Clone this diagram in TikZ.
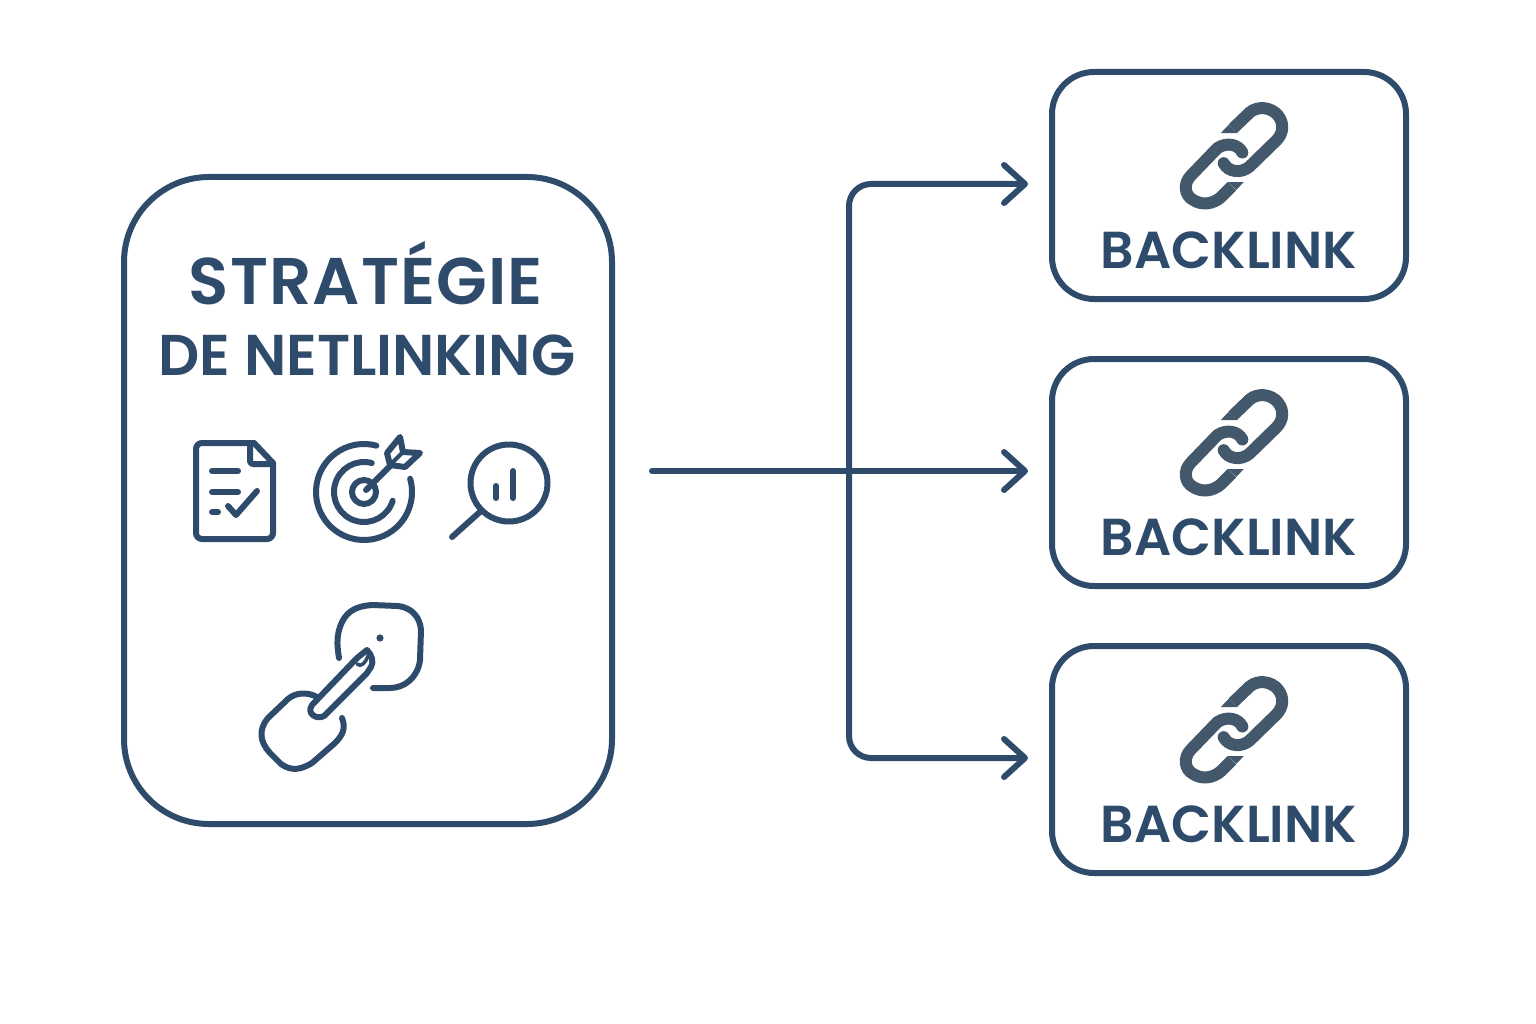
\documentclass[tikz,border=0pt]{standalone}
\usepackage{fontspec}
\usepackage{xcolor}
\usetikzlibrary{calc,positioning,arrows.meta}
\newfontfamily\labelfont{Poppins SemiBold}
\newfontfamily\titlefont{Poppins SemiBold}[LetterSpace=1.7]
\definecolor{navy}{HTML}{2F4B6B}
\definecolor{slate}{HTML}{44586C}
\tikzset{
  stratbox/.style={ % image of the large strategy frame
    draw=navy, line width=6pt, rectangle, rounded corners=85pt,
    minimum width=488pt, minimum height=647pt, outer sep=0pt
  },
  backbox/.style={  % image of one backlink frame
    draw=navy, line width=6pt, rectangle, rounded corners=42pt,
    minimum width=354pt, minimum height=227pt, outer sep=0pt
  },
  backlabel/.style={
    text=navy, inner sep=0pt, anchor=base, font=\labelfont\fontsize{52}{60}\selectfont
  },
  flow/.style={
    draw=navy, line width=6pt, line cap=round, rounded corners=22pt
  },
  flowtip/.style={
    flow, -{Straight Barb[length=21pt,width=38pt,line width=6pt,round]}
  },
  icon/.style={
    draw=navy, line width=6pt, line cap=round, line join=round
  },
  chainlink/.pic={ % two linked rings, drawn in units of a third of a pixel
    \begin{scope}[scale=1/3,shift={(-430,-195)}]
      \draw[slate, line width=12pt, line cap=butt]
        (429,115) -- (480,66) .. controls (505,45) and (545,50) .. (565,75)
        .. controls (585,100) and (580,130) .. (560,150) -- (480,228)
        .. controls (455,250) and (415,245) .. (402,218);
      \fill[slate] (393,128) -- (417,103) -- (442,128) -- cycle;
      \fill[slate] (402,218) circle (6pt*3);
      \draw[slate, line width=12pt, line cap=butt]
        (458,186) .. controls (445,160) and (410,155) .. (383,173) -- (303,256)
        .. controls (280,280) and (285,315) .. (310,328)
        .. controls (335,345) and (370,342) .. (395,319) -- (427,287);
      \fill[slate] (458,186) circle (6pt*3);
      \fill[slate] (415,275) -- (462,275) -- (440,298) -- cycle;
    \end{scope}
  }
}
\begin{document}
\begin{tikzpicture}[x=1pt,y=-1pt]
  \useasboundingbox (0,0) rectangle (1536,1024);

  \node[stratbox] (strat) at (368,500.5) {};
  \node[backbox] (back1) at (1229,185.5) {};
  \node[backbox, below=60pt of back1] (back2) {};
  \node[backbox, below=60pt of back2] (back3) {};

  \node[text=navy, inner sep=0pt, anchor=base, font=\titlefont\fontsize{66}{70}\selectfont] (title1) at (366,305) {STRATÉGIE};
  \node[text=navy, inner sep=0pt, anchor=base, font=\labelfont\fontsize{57.5}{70}\selectfont] (title2) at (367,375) {DE NETLINKING};

  \node[backlabel] (label1) at ([yshift=-83pt]back1.center) {BACKLINK};
  \node[backlabel] (label2) at ([yshift=-83pt]back2.center) {BACKLINK};
  \node[backlabel] (label3) at ([yshift=-83pt]back3.center) {BACKLINK};

  \pic at ([xshift=4pt,yshift=30pt]back1.center) {chainlink};
  \pic at ([xshift=4pt,yshift=30pt]back2.center) {chainlink};
  \pic at ([xshift=4pt,yshift=30pt]back3.center) {chainlink};

  % connectors
  \coordinate (start) at (652,471);
  \coordinate (fork) at (849,471);
  \coordinate (out1) at (1028,184);
  \coordinate (out2) at (1028,471);
  \coordinate (out3) at (1028,758);
  \draw[flowtip] (start) -- (out2);
  \draw[flowtip] (fork) |- (out1);
  \draw[flowtip] (fork) |- (out3);

  % document icon
  \draw[icon, rounded corners=6pt] (254,443) -- (196,443) -- (196,539) -- (273,539) -- (273,463);
  \draw[icon] (254,443) -- (273,463);
  \draw[icon, rounded corners=3pt] (250,444) -- (250,464) -- (273,464);
  \draw[icon] (212,471) -- (238,471);
  \draw[icon] (212,492) -- (238,492);
  \draw[icon] (212,512) -- (218,512);
  \draw[icon] (228,506) -- (236,515) -- (257,491);

  % target icon
  \draw[icon] (364,492) ++(-75:48) arc[start angle=-75, end angle=-376, radius=48];
  \draw[icon] (364,492) ++(-75:30) arc[start angle=-75, end angle=-343, radius=30];
  \draw[icon] (364,492) ++(-45:12) arc[start angle=-45, end angle=-405, radius=12];
  \draw[icon] (366,490) -- (392,464);
  \draw[icon] (400,437) -- (403,452) -- (420,453) -- (405,467) -- (390,465) -- (387,453) -- cycle;
  \draw[icon, line width=4pt] (403,452) -- (392,463);

  % magnifier icon
  \draw[icon] (509,483) circle[radius=38.5];
  \draw[icon] (481,511) -- (452,537);
  \draw[icon] (496,486) -- (496,498);
  \draw[icon] (513,471) -- (513,498);

  % broken link icon
  \draw[icon] (339,658) .. controls (337,645) and (336,635) .. (342,622)
    .. controls (348,610) and (358,606) .. (372,605) -- (398,606)
    .. controls (413,608) and (420,618) .. (421,630) -- (420,660)
    .. controls (418,677) and (405,688) .. (390,688) -- (373,688);
  \fill[navy] (380,638) circle[radius=3.6];
  \draw[icon] (312,705) -- (357,658) -- (367,650) .. controls (372,655) and (374,662) .. (371,667)
    -- (367,673) -- (324,716) .. controls (317,720) and (306,714) .. (312,705) -- cycle;
  \draw[icon, line width=3.5pt] (357,664) .. controls (361,668) and (366,662) .. (368,656);
  \draw[icon] (317,697) .. controls (308,692) and (296,692) .. (288,699) -- (268,718)
    .. controls (258,730) and (260,742) .. (270,753) -- (281,764)
    .. controls (292,772) and (302,769) .. (312,763) -- (335,743)
    .. controls (345,733) and (345,726) .. (342,718);
\end{tikzpicture}
\end{document}
